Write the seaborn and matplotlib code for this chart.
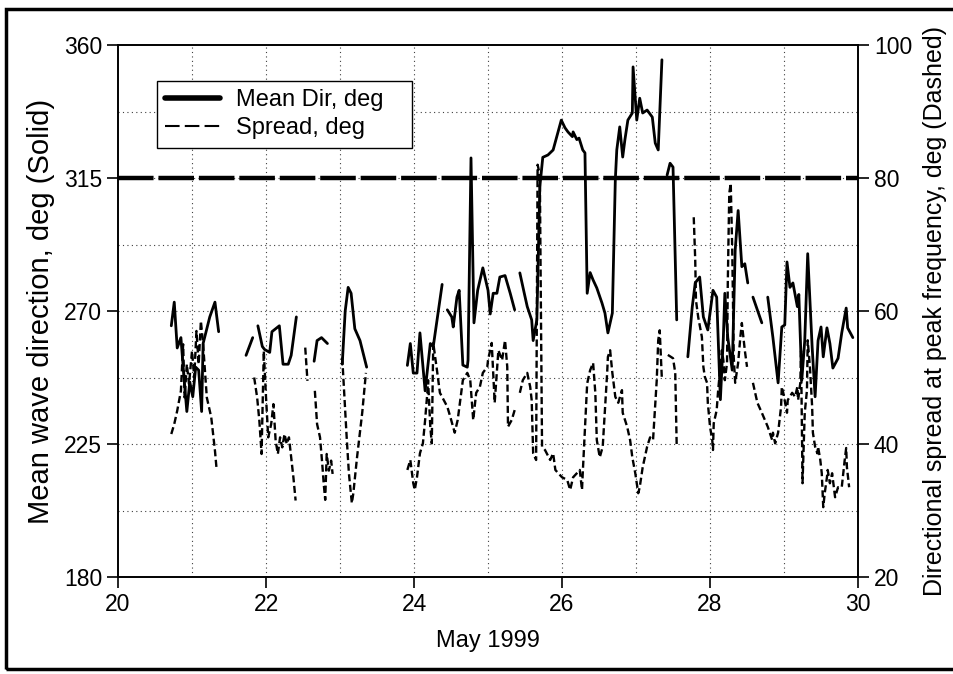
import numpy as np
import pandas as pd
import matplotlib
matplotlib.use("Agg")
import matplotlib.pyplot as plt
from matplotlib.lines import Line2D
from matplotlib.patches import Rectangle
import seaborn as sns

nan = np.nan

# Mean wave direction (deg), gaps marked with nan
dir_day = [
    20.72, 20.76, 20.80, 20.85, 20.89, 20.93, 20.97, 21.01, 21.05, 21.09, 21.13, 21.15, 21.24, 21.31, 21.36, nan,
    21.73, 21.82, nan,
    21.89, 21.95, 21.98, 22.05, 22.08, 22.18, 22.23, 22.30, 22.34, 22.41, nan,
    22.65, 22.69, 22.75, 22.83, nan,
    23.03, 23.07, 23.11, 23.15, 23.20, 23.27, 23.36, nan,
    23.91, 23.95, 23.99, 24.04, 24.08, 24.15, 24.22, 24.26, 24.38, nan,
    24.45, 24.51, 24.53, 24.58, 24.61, 24.66, 24.72, 24.73, 24.77, 24.81, 24.86, 24.93, 25.00, 25.03, 25.07,
    25.12, 25.16, 25.23, 25.30, 25.36, nan,
    25.43, 25.49, 25.53, 25.59, 25.61, 25.66, 25.70, 25.74, 25.81, 25.88, 25.99, 26.04, 26.08, 26.14, 26.15,
    26.20, 26.23, 26.28, 26.31, 26.34, 26.38, 26.42, 26.47, 26.54, 26.58, 26.62, 26.68, 26.72, 26.74, 26.78,
    26.82, 26.85, 26.89, 26.95, 26.96, 27.01, 27.05, 27.09, 27.15, 27.22, 27.26, 27.30, 27.35, nan,
    27.42, 27.46, 27.50, 27.55, nan,
    27.70, 27.76, 27.80, 27.86, 27.91, 27.97, 28.04, 28.09, 28.14, 28.18, 28.20, 28.24, 28.30, 28.34, 28.38,
    28.43, 28.47, 28.51, nan,
    28.58, 28.70, nan,
    28.78, 28.85, 28.92, 28.97, 29.01, 29.04, 29.08, 29.12, 29.18, 29.20, 29.24, 29.28, 29.32, 29.38, 29.42,
    29.46, 29.50, 29.53, 29.58, 29.62, 29.66, 29.73, 29.78, 29.84, 29.86, 29.93,
]
dir_val = [
    265, 273, 257.5, 261, 248, 236, 246, 241, 251, 250, 236, 259, 268, 273, 263, nan,
    255, 261, nan,
    265, 258, 257, 256, 263, 265, 252, 252, 255, 268, nan,
    253, 260, 261, 259, nan,
    252, 270, 278, 276, 264, 260, 251, nan,
    251.6, 259, 249, 249, 262.6, 243, 259, 258, 279, nan,
    270.4, 268, 264.6, 274.7, 277, 251.7, 251, 253.4, 321.8, 266, 277, 284.6, 277, 269, 276,
    276, 281.5, 282, 276, 270.4, nan,
    282.9, 276, 271.5, 267, 260, 267, 312, 322, 322.8, 324.5, 334.6, 332, 330.6, 329, 330.6,
    328, 328.5, 324.5, 323.5, 276, 283, 280.5, 277.8, 272.7, 269.3, 262.6, 269.3, 314.3, 324.5, 332.3,
    322.1, 328, 334.6, 337, 352.6, 334.6, 342, 337, 338, 335.6, 326.8, 324.5, 355, nan,
    316, 320, 318.7, 267, nan,
    254.5, 271.4, 279.5, 281.5, 268, 263.6, 277, 274.7, 240, 261, 276, 261, 250, 290.6, 304,
    285, 286, 279.5, nan,
    274.7, 266, nan,
    274.7, 261, 245.7, 264.6, 265.3, 286.6, 278, 279.5, 271.5, 275.6, 246.6, 260, 289.4, 257.8, 241,
    260, 264.6, 254.5, 264.3, 259, 250.7, 254, 262.6, 271, 264.3, 261,
]

# Directional spread at peak frequency (deg), gaps marked with nan
spread_day = [
    20.72, 20.76, 20.80, 20.85, 20.88, 20.90, 20.93, 20.96, 21.00, 21.03, 21.06, 21.09, 21.12, 21.15, 21.20,
    21.26, 21.31, 21.33, nan,
    21.84, 21.88, 21.91, 21.94, 21.97, 22.00, 22.03, 22.07, 22.10, 22.13, 22.16, 22.19, 22.22, 22.25, 22.28,
    22.31, 22.33, 22.37, 22.40, nan,
    22.53, 22.56, nan,
    22.66, 22.69, 22.73, 22.76, 22.78, 22.80, 22.82, 22.85, 22.88, 22.90, nan,
    23.03, 23.06, 23.09, 23.12, 23.16, 23.18, 23.23, 23.30, 23.35, nan,
    23.91, 23.95, 23.99, 24.01, 24.04, 24.08, 24.12, 24.15, 24.18, 24.19, 24.22, 24.24, 24.26, 24.31, 24.35,
    24.45, 24.49, 24.55, 24.59, 24.66, 24.72, 24.76, 24.80, 24.84, 24.89, 24.93, 24.99, 25.00, 25.05, 25.09,
    25.14, 25.19, 25.23, 25.26, 25.27, 25.32, 25.36, nan,
    25.43, 25.47, 25.53, 25.57, 25.59, 25.61, 25.65, 25.67, 25.70, 25.73, 25.77, 25.84, 25.88, 25.91, 25.95,
    26.00, 26.07, 26.11, 26.15, 26.20, 26.24, 26.27, 26.28, 26.34, 26.38, 26.42, 26.45, 26.47, 26.51, 26.55,
    26.61, 26.62, 26.65, 26.68, 26.72, 26.76, 26.81, 26.82, 26.88, 26.92, 26.95, 26.99, 27.03, 27.05, 27.09,
    27.15, 27.19, 27.23, 27.28, 27.30, 27.32, 27.35, nan,
    27.43, 27.50, 27.53, 27.55, nan,
    27.78, 27.80, 27.81, 27.84, 27.89, 27.91, 27.93, 27.96, 27.97, 28.00, 28.03, 28.04, 28.05, 28.09, 28.11,
    28.14, 28.16, 28.18, 28.20, 28.23, 28.24, 28.26, 28.28, 28.30, 28.31, 28.32, 28.34, 28.38, 28.41, 28.43,
    28.47, 28.50, nan,
    28.58, 28.64, 28.70, 28.78, 28.84, 28.85, 28.88, 28.92, 28.96, 28.97, 28.99, 29.04, 29.05, 29.11, 29.15,
    29.18, 29.19, 29.22, 29.23, 29.25, 29.28, 29.31, 29.32, 29.35, 29.38, 29.39, 29.42, 29.45, 29.46, 29.49,
    29.51, 29.53, 29.55, 29.58, 29.59, 29.62, 29.65, 29.69, 29.73, 29.78, 29.82, 29.84, 29.85, 29.88,
]
spread_val = [
    41.5, 43, 45, 48, 55, 47, 52, 49, 54, 50, 57, 52, 58.5, 55, 47,
    44, 39, 36.5, nan,
    50, 47, 43.5, 38.5, 54, 47, 41, 43, 46, 40.5, 38.5, 41, 39.5, 41.5, 40,
    41, 39, 35, 31.5, nan,
    54.5, 49.5, nan,
    48, 43, 41, 37, 34, 31.6, 38.5, 36, 37.5, 35.5, nan,
    53, 47, 41, 35.6, 31.1, 32.6, 38, 44.7, 50.7, nan,
    36.1, 37.6, 34.1, 33.1, 35.0, 38.6, 40.1, 43.6, 47.7, 49.6, 42.6, 40.1, 55.2, 51.1, 47.7,
    45.6, 44.1, 41.7, 43.6, 49.6, 50.7, 49.6, 43.6, 47.7, 48.6, 50.7, 51.6, 52.6, 55.2, 46.2,
    54.1, 52.6, 55.6, 51.6, 42.6, 43.6, 45.1, nan,
    47.7, 49.6, 50.7, 48.6, 46.6, 38.6, 37.6, 82, 80.5, 39.6, 39.1, 37.6, 38.6, 36.1, 35.6,
    35.0, 34.6, 33.1, 35.0, 35.6, 36.1, 33.1, 35.6, 49.1, 51.1, 52.2, 47.7, 40.6, 38.0, 39.6,
    50.7, 53.1, 54.1, 50.7, 47.1, 46.2, 48.1, 44.7, 42.6, 40.6, 38.0, 35.6, 32.6, 33.5, 36.5,
    39.6, 41.0, 40.6, 49.6, 55.6, 57.1, 49.6, nan,
    53.4, 52.9, 50.7, 39.5, nan,
    74.1, 67.7, 61.6, 59.1, 56.1, 51.6, 50.1, 49.2, 46.2, 42.6, 40.6, 39.1, 43.1, 45.1, 48.1,
    51.6, 54.1, 52.6, 49.6, 52.2, 64.2, 77.7, 79.2, 69.2, 61.6, 53.1, 49.2, 52.2, 56.1, 58.2,
    54.1, 51.6, nan,
    49.2, 46.2, 44.7, 42.6, 40.6, 41.7, 40.1, 41.7, 45.6, 48.6, 47.7, 44.7, 46.6, 47.7, 47.1,
    48.6, 46.6, 49.2, 54, 34.1, 44.7, 48.1, 55.6, 51.6, 45.6, 41.7, 39.6, 38.6, 39.6, 37.6,
    35.6, 30.5, 32.6, 35.0, 36.1, 34.1, 35.6, 32.0, 33.5, 33.5, 37.6, 39.4, 36.5, 33.5,
]

ref_dir = 315  # heavy dashed reference line
dir_ticks = [180, 225, 270, 315, 360]
spread_ticks = [20, 40, 60, 80, 100]
day_ticks = [20, 22, 24, 26, 28, 30]


def to_frame(days, vals):
    df = pd.DataFrame({"day": days, "val": vals})
    df["seg"] = df["val"].isna().cumsum()
    return df.dropna()


df_dir = to_frame(dir_day, dir_val)
df_spread = to_frame(spread_day, spread_val)

sns.set_style("ticks")
plt.rcParams["font.family"] = ["Liberation Sans", "DejaVu Sans"]
plt.rcParams["axes.labelcolor"] = "k"

fig = plt.figure(figsize=(9.54, 6.74), dpi=100)
ax = fig.add_axes([0.1237, 0.1439, 0.7757, 0.7893])
ax2 = ax.twinx()

grid_kw = dict(color="0.25", linestyle=(0, (1, 3)), linewidth=0.8)
for d in range(21, 30):
    ax.axvline(d, zorder=0, **grid_kw)
for v in np.arange(202.5, 360, 22.5):
    ax.axhline(v, zorder=0, **grid_kw)

ax.axhline(ref_dir, color="k", lw=3.2, dashes=(8.0, 1.1), zorder=2)

sns.lineplot(data=df_dir, x="day", y="val", units="seg", estimator=None, sort=False,
             color="k", lw=2.0, ax=ax, legend=False)
sns.lineplot(data=df_spread, x="day", y="val", units="seg", estimator=None, sort=False,
             color="k", lw=1.7, linestyle=(0, (3, 1.5)), ax=ax2, legend=False)

ax.set_xlim(20, 30)
ax.set_ylim(180, 360)
ax2.set_ylim(20, 100)
ax.set_xticks(day_ticks)
ax.set_yticks(dir_ticks)
ax2.set_yticks(spread_ticks)

for a in (ax, ax2):
    a.tick_params(direction="out", length=8, width=1.2, labelsize=16.5, colors="k")
    for s in a.spines.values():
        s.set_visible(True)
        s.set_color("k")
        s.set_linewidth(1.2)

ax.set_xlabel("May 1999", fontsize=17, labelpad=10, color="k")
ax.set_ylabel("Mean wave direction, deg (Solid)", fontsize=21, labelpad=6, color="k")
ax2.set_ylabel("Directional spread at peak frequency, deg (Dashed)", fontsize=18, labelpad=8, color="k")

handles = [Line2D([], [], color="k", lw=4),
           Line2D([], [], color="k", lw=1.5, linestyle=(0, (7, 2.5)))]
leg = ax2.legend(handles, ["Mean Dir, deg   ", "Spread, deg"], loc="upper left",
                 bbox_to_anchor=(0.0527, 0.932), borderaxespad=0, fontsize=17,
                 frameon=True, fancybox=False, edgecolor="k", framealpha=1,
                 handlelength=2.3, handletextpad=0.7, borderpad=0.35, labelspacing=0.25)
leg.get_frame().set_linewidth(1.0)
for t in leg.get_texts():
    t.set_color("k")

fig.patches.append(Rectangle((0.006, 0.007), 1.2, 0.98, transform=fig.transFigure,
                             fill=False, lw=2.5, edgecolor="k"))

fig.savefig("out.png", dpi=100)
